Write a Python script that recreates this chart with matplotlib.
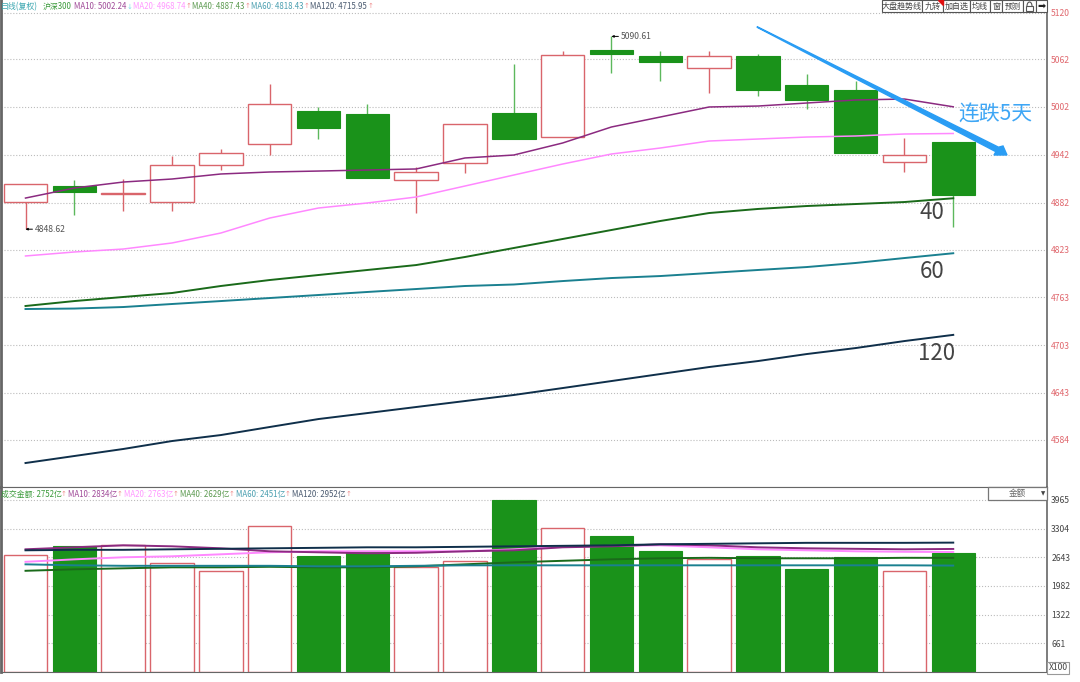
from matplotlib import pyplot as plt
from matplotlib.patches import Polygon, Rectangle, Arc
import numpy as np

plt.rcParams['font.family'] = ['Noto Sans CJK SC', 'DejaVu Sans']

# candles, oldest first
opens = [4882.7, 4902.8, 4892.5, 4882.7, 4929.2, 4955.5, 4997.0, 4993.2, 4910.3, 4931.7,
         4994.5, 4964.3, 5073.5, 5066.0, 5051.0, 5066.0, 5029.6, 5023.3, 4933.0, 4958.0]
closes = [4905.3, 4895.3, 4894.5, 4929.2, 4944.2, 5005.8, 4975.6, 4912.9, 4920.4, 4980.6,
          4961.8, 5067.3, 5068.5, 5058.5, 5066.0, 5023.3, 5010.8, 4944.2, 4941.7, 4891.5]
highs = [4905.3, 4910.3, 4911.6, 4940.5, 4949.3, 5030.9, 5002.0, 5005.8, 4926.7, 4980.6,
         5056.0, 5072.3, 5090.61, 5072.3, 5072.3, 5068.5, 5043.4, 5034.6, 4963.0, 4958.0]
lows = [4848.62, 4866.4, 4871.4, 4871.4, 4922.9, 4941.7, 4961.8, 4912.9, 4868.9, 4919.1,
        4961.8, 4964.3, 5044.7, 5034.6, 5019.6, 5015.8, 4999.5, 4944.2, 4920.4, 4851.3]

ma10 = [4887.7, 4900.3, 4907.8, 4911.6, 4917.9, 4920.4, 4921.6, 4922.9, 4924.2, 4938.0,
        4941.7, 4956.8, 4976.9, 4989.4, 5002.0, 5003.2, 5007.0, 5010.8, 5012.0, 5002.24]
ma20 = [4815.0, 4820.0, 4823.7, 4831.3, 4843.8, 4862.6, 4875.2, 4881.5, 4889.0, 4902.8,
        4916.6, 4930.4, 4943.0, 4950.5, 4959.3, 4961.8, 4964.3, 4965.6, 4968.1, 4968.74]
ma40 = [4752.2, 4758.4, 4763.5, 4768.5, 4777.3, 4784.8, 4791.1, 4797.4, 4803.6, 4813.7,
        4825.0, 4836.3, 4847.6, 4858.9, 4868.9, 4874.0, 4877.7, 4880.2, 4882.7, 4887.43]
ma60 = [4748.4, 4749.0, 4750.9, 4754.7, 4758.4, 4762.2, 4766.0, 4769.8, 4773.5, 4777.3,
        4779.2, 4783.5, 4787.3, 4789.8, 4793.6, 4797.4, 4801.1, 4806.2, 4812.4, 4818.43]
ma120 = [4555.1, 4563.9, 4572.7, 4582.7, 4590.2, 4600.3, 4610.3, 4617.8, 4625.4, 4632.9,
         4640.5, 4649.2, 4658.0, 4666.8, 4675.6, 4683.1, 4691.9, 4699.4, 4708.2, 4715.95]

volume = [2688, 2895, 2918, 2503, 2319, 3355, 2665, 2780, 2411, 2549,
          3965, 3309, 3125, 2780, 2595, 2665, 2365, 2642, 2319, 2752]
vol_ma10 = [2826, 2872, 2918, 2895, 2849, 2780, 2757, 2734, 2746, 2780,
            2803, 2872, 2895, 2941, 2918, 2872, 2849, 2837, 2826, 2834]
vol_ma20 = [2538, 2595, 2642, 2665, 2711, 2757, 2780, 2780, 2780, 2780,
            2826, 2883, 2906, 2918, 2872, 2826, 2803, 2780, 2768, 2763]
vol_ma40 = [2331, 2365, 2388, 2411, 2411, 2423, 2411, 2411, 2434, 2480,
            2526, 2561, 2595, 2619, 2630, 2619, 2619, 2619, 2630, 2629]
vol_ma60 = [2480, 2457, 2446, 2446, 2446, 2446, 2434, 2434, 2446, 2457,
            2457, 2457, 2457, 2457, 2457, 2457, 2457, 2457, 2457, 2451]
vol_ma120 = [2803, 2814, 2814, 2826, 2837, 2849, 2860, 2872, 2872, 2883,
             2895, 2906, 2918, 2941, 2952, 2964, 2975, 2975, 2975, 2980]

price_ticks = [5120, 5062, 5002, 4942, 4882, 4823, 4763, 4703, 4643, 4584]
vol_ticks = [3965, 3304, 2643, 1982, 1322, 661]

RED = '#d9656b'
GREEN = '#1a921a'
WICK_GREEN = '#5cb85c'
MA_COLORS = ['#8b2a80', '#ff88ff', '#1a6a1a', '#1a8090', '#0f2f4a']
AXIS = '#666666'
W, H = 1080, 682

fig = plt.figure(figsize=(W / 100, H / 100), dpi=100)
ax = fig.add_axes([1 / W, 1 - 487 / H, 1046 / W, 487 / H])
vax = fig.add_axes([1 / W, 1 - 672 / H, 1046 / W, 185 / H])


def px(x, y):
    return x / W, 1 - y / H


def label(x, y, s, color='#555555', size=5.7, **kw):
    fig.text(*px(x, y), s, color=color, fontsize=size, va='center', **kw)


x = np.arange(len(opens))
o, c = np.array(opens), np.array(closes)
up = c >= o
for a in (ax, vax):
    a.set_xlim(-0.502, 20.92)
    a.set_xticks([])
    a.yaxis.tick_right()
    a.grid(axis='y', color='#bcbcbc', linestyle=':', linewidth=0.8)
    a.set_axisbelow(True)
    for side in ('top', 'bottom', 'left', 'right'):
        a.spines[side].set_color(AXIS)
    a.spines['left'].set_linewidth(2)
    a.spines['right'].set_linewidth(1.2)

# price panel
ax.set_ylim(4525, 5136.3)
ax.set_yticks(price_ticks)
ax.tick_params(axis='y', length=0, labelsize=6.2, labelcolor='#e0686e', pad=3)
ax.spines['top'].set_visible(False)
ax.spines['bottom'].set_color('#999999')

ax.vlines(x[up], np.array(lows)[up], np.array(highs)[up], color=RED, linewidth=1, zorder=2)
ax.vlines(x[~up], np.array(lows)[~up], np.array(highs)[~up], color=WICK_GREEN, linewidth=1, zorder=2)
ax.bar(x[up], (c - o)[up], bottom=o[up], width=0.89, facecolor='white', edgecolor=RED, linewidth=1, zorder=3)
ax.bar(x[~up], (c - o)[~up], bottom=o[~up], width=0.89, facecolor=GREEN, edgecolor=GREEN, linewidth=0.8, zorder=3)

for vals, col in zip([ma10, ma20, ma40, ma60, ma120], MA_COLORS):
    ax.plot(x, vals, color=col, linewidth=1.4 if col in MA_COLORS[2:] else 1.1, zorder=4)

# high / low markers
ax.annotate('4848.62', xy=(0, 4848.62), xytext=(7, 0), textcoords='offset points', fontsize=6.2,
            color='#555555', va='center', arrowprops=dict(arrowstyle='-|>,head_width=0.1,head_length=0.2',
                                                          color='black', lw=0.7, shrinkA=0, shrinkB=0))
ax.annotate('5090.61', xy=(12, 5090.61), xytext=(7, 0), textcoords='offset points', fontsize=6.2,
            color='#555555', va='center', arrowprops=dict(arrowstyle='-|>,head_width=0.1,head_length=0.2',
                                                          color='black', lw=0.7, shrinkA=0, shrinkB=0))

# volume panel
vax.set_ylim(0, 4261)
vax.set_yticks(vol_ticks)
vax.tick_params(axis='y', length=0, labelsize=6.2, labelcolor='#444444', pad=3)
vol = np.array(volume)
vax.bar(x[up], vol[up], width=0.89, facecolor='white', edgecolor=RED, linewidth=1, zorder=2)
vax.bar(x[~up], vol[~up], width=0.89, facecolor=GREEN, edgecolor=GREEN, linewidth=0.8, zorder=2)
for vals, col in zip([vol_ma40, vol_ma20, vol_ma10, vol_ma60, vol_ma120],
                     [MA_COLORS[2], MA_COLORS[1], MA_COLORS[0], MA_COLORS[3], MA_COLORS[4]]):
    vax.plot(x, vals, color=col, linewidth=1.4, zorder=3)

# header of price panel
label(1, 6.5, '日线(复权)', color='#3aa6b0')
label(43, 6.5, '沪深300', color='#3a9a3a')
for xp, s, col in [(74, 'MA10: 5002.24', '#a04a98'), (133, 'MA20: 4968.74', '#ff99ff'),
                   (192, 'MA40: 4887.43', '#5c9a50'), (251, 'MA60: 4818.43', '#4a9fb0'),
                   (310, 'MA120: 4715.95', '#4a5a70')]:
    label(xp, 6.5, s, color=col)
label(129.5, 6.5, '↓', color='#7fe0e8', family='DejaVu Sans', ha='center', size=5)
for xp in (188.5, 247.5, 306.5, 370.5):
    label(xp, 6.5, '↑', color='#f09090', family='DejaVu Sans', ha='center', size=5)

# header of volume panel
label(1, 494, '成交金额: 2752亿', color='#3a9a3a')
for xp, s, col in [(68, 'MA10: 2834亿', '#a04a98'), (124, 'MA20: 2763亿', '#ff99ff'),
                   (180, 'MA40: 2629亿', '#5c9a50'), (236, 'MA60: 2451亿', '#4a9fb0'),
                   (292, 'MA120: 2952亿', '#4a5a70')]:
    label(xp, 494, s, color=col)
for xp in (64, 120, 176, 232, 288, 349):
    label(xp, 494, '↑', color='#f09090', family='DejaVu Sans', ha='center', size=5)

# toolbar
edges = [882, 922, 943, 970, 990, 1002, 1023, 1036, 1047]
names = ['大盘趋势线', '九转', '加自选', '均线', '窗', '预测', '', '']
for left, right, name in zip(edges[:-1], edges[1:], names):
    fig.add_artist(Rectangle(px(left, 12), (right - left) / W, 12 / H, transform=fig.transFigure,
                             facecolor='white', edgecolor='#555555', linewidth=0.8))
    if name:
        label((left + right) / 2, 6, name, color='#444444', size=5.8, ha='center')
label(1041.5, 6, '➡', color='#222222', size=7, ha='center', family='DejaVu Sans')
fig.add_artist(Polygon([px(938, 0), px(943, 0), px(943, 5)], transform=fig.transFigure, color='#e01010'))
fig.add_artist(Rectangle(px(1026, 11), 7 / W, 5 / H, transform=fig.transFigure, fill=False,
                         edgecolor='#555555', linewidth=0.8))
fig.add_artist(Arc(px(1029.5, 6), 5 / W, 8 / H, theta1=0, theta2=180, transform=fig.transFigure,
                   edgecolor='#555555', linewidth=0.8))

# dropdown and unit box
fig.add_artist(Rectangle(px(988, 499.5), 59 / W, 12.5 / H, transform=fig.transFigure,
                         facecolor='white', edgecolor='#777777', linewidth=0.9))
label(1017, 493.5, '金额', color='#666666', size=6.2, ha='center')
label(1043, 493.5, '▼', color='#444444', size=4, ha='center', family='DejaVu Sans')
fig.text(*px(1058, 668), 'X100', color='#444444', fontsize=6.2, ha='center', va='center',
         bbox=dict(boxstyle='square,pad=0.15', facecolor='white', edgecolor='#999999', linewidth=0.8))

# callouts
label(920, 213, '40', color='#444444', size=16)
label(920, 272, '60', color='#444444', size=16)
label(918, 354, '120', color='#444444', size=16)
label(958, 115, '连跌5天', color='#3ea6f5', size=15)
fig.add_artist(Polygon([px(757, 26.6), px(757.4, 27.4), px(995.9, 151.7), px(994, 155), px(1007, 155),
                        px(1003, 146), px(998.5, 147.2), px(757, 26.6)],
                       transform=fig.transFigure, color='#2a9df4', zorder=10))

fig.savefig('out.png', dpi=100)
